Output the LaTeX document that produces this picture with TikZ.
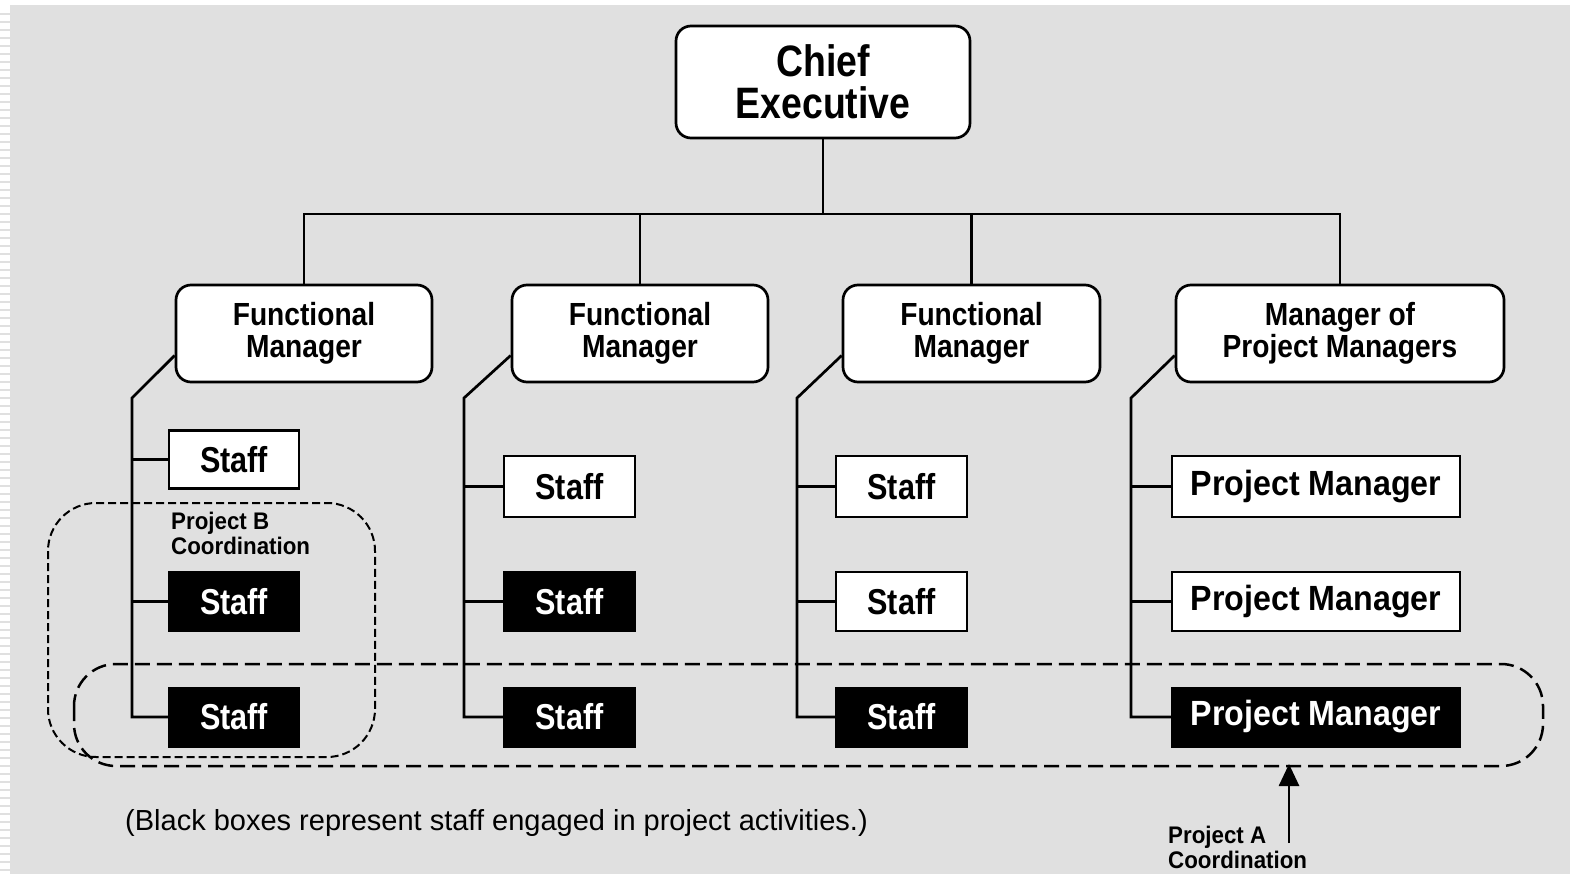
\documentclass[tikz,border=0pt]{standalone}
\usepackage{fontspec}
\setmainfont{Liberation Sans}
\newfontfamily\cf[FakeStretch=0.85]{Liberation Sans}
\newfontfamily\cfm[FakeStretch=0.88]{Liberation Sans}
\newfontfamily\cfp[FakeStretch=0.92]{Liberation Sans}
\newfontfamily\cfs[FakeStretch=0.93]{Liberation Sans}
\usetikzlibrary{arrows.meta,calc}
\definecolor{bg}{HTML}{E0E0E0}
\tikzset{
  line/.style={line width=2.7pt},
  rbox/.style={draw, line width=2.7pt, fill=white, rounded corners=15pt, align=center, inner sep=0pt, font=\cf\bfseries},
  fmbox/.style={rbox, minimum height=97pt, font=\cfm\bfseries\fontsize{32}{32}\selectfont},
  wbox/.style={draw, line width=2.7pt, fill=white, align=center, inner sep=0pt, font=\cf\bfseries\fontsize{36}{36}\selectfont},
  bbox/.style={draw=black, fill=black, text=white, align=center, inner sep=0pt, font=\cf\bfseries\fontsize{36}{36}\selectfont},
  pbox/.style={font=\cfp\bfseries\fontsize{35}{35}\selectfont},
  lbl/.style={align=left, inner sep=0pt, anchor=north west, font=\cfs\bfseries\fontsize{24}{25}\selectfont},
  projB/.style={line width=2pt, dash pattern=on 8pt off 4pt, rounded corners=48pt},
  projA/.style={line width=2.5pt, dash pattern=on 15pt off 7pt, rounded corners=42pt},
}
\begin{document}
\begin{tikzpicture}[x=1pt,y=-1pt]
\useasboundingbox (0,0) rectangle (1570,874);
\fill[white] (0,0) rectangle (1570,874);
\fill[bg] (10,5) rectangle (1570,874);
\foreach \yy in {13,21,...,874} \fill[bg] (0,\yy) rectangle (10,\yy+2);

% top level
\node[rbox, minimum width=294pt, minimum height=112pt, font=\cf\bfseries\fontsize{44}{42}\selectfont] (ce) at (823,82) {Chief\\Executive};

\node[fmbox, minimum width=256pt] (fm1) at (304,333.5) {Functional\\Manager};
\node[fmbox, minimum width=256pt] (fm2) at (640,333.5) {Functional\\Manager};
\node[fmbox, minimum width=257pt] (fm3) at (971.5,333.5) {Functional\\Manager};
\node[fmbox, minimum width=328pt] (fm4) at (1340,333.5) {Manager of\\Project Managers};

\coordinate (bus) at (823,214);
\draw[line] (ce.south) -- (bus);
\draw[line] (fm1.north) |- (bus) -| (fm4.north);
\draw[line] (fm2.north) -- (fm2.north |- bus);
\draw[line] (fm3.north) -- (fm3.north |- bus);

% staff column 1
\node[wbox, minimum width=130pt, minimum height=58pt] (s11) at (234,459.5) {Staff};
\node[bbox, minimum width=131pt, minimum height=60pt] (s12) at (234,601.5) {Staff};
\node[bbox, minimum width=131pt, minimum height=60pt] (s13) at (234,717) {Staff};
% column 2
\node[wbox, minimum width=131pt, minimum height=61pt] (s21) at (569.5,486.5) {Staff};
\node[bbox, minimum width=132pt, minimum height=60pt] (s22) at (569.5,601.5) {Staff};
\node[bbox, minimum width=132pt, minimum height=60pt] (s23) at (569.5,717) {Staff};
% column 3
\node[wbox, minimum width=131pt, minimum height=61pt] (s31) at (901.5,486.5) {Staff};
\node[wbox, minimum width=131pt, minimum height=59pt] (s32) at (901.5,601.5) {Staff};
\node[bbox, minimum width=132pt, minimum height=60pt] (s33) at (901.5,717) {Staff};
% column 4
\node[wbox, pbox, minimum width=288pt, minimum height=61pt] (s41) at (1316,486.5) {Project Manager};
\node[wbox, pbox, minimum width=288pt, minimum height=59pt] (s42) at (1316,601.5) {Project Manager};
\node[bbox, pbox, minimum width=289pt, minimum height=60pt] (s43) at (1316,717) {Project Manager};

% spines
\draw[line] ($(fm1.west)+(0,22)$) -- (132,398) |- (s13.west);
\draw[line] (s11.west) -- (s11.west -| 132,0);
\draw[line] (s12.west) -- (s12.west -| 132,0);
\draw[line] ($(fm2.west)+(0,22)$) -- (464,398) |- (s23.west);
\draw[line] (s21.west) -- (s21.west -| 464,0);
\draw[line] (s22.west) -- (s22.west -| 464,0);
\draw[line] ($(fm3.west)+(0,22)$) -- (797,398) |- (s33.west);
\draw[line] (s31.west) -- (s31.west -| 797,0);
\draw[line] (s32.west) -- (s32.west -| 797,0);
\draw[line] ($(fm4.west)+(0,22)$) -- (1131,398) |- (s43.west);
\draw[line] (s41.west) -- (s41.west -| 1131,0);
\draw[line] (s42.west) -- (s42.west -| 1131,0);

% project groupings
\draw[projB] (48,503) rectangle (375,757);
\draw[projA] (74,664) rectangle (1543,766);

\node[lbl] (lb) at (171,512) {Project B\\Coordination};
\node[lbl] (la) at (1168,826) {Project A\\Coordination};
\coordinate (atip) at (1289,764);
\draw[line, -{Triangle[width=20pt,length=22pt]}] (1289,843) -- (atip);

\node[anchor=west, inner sep=0pt, font=\fontsize{29}{29}\selectfont] (cap) at (125,823) {(Black boxes represent staff engaged in project activities.)};
\end{tikzpicture}
\end{document}
